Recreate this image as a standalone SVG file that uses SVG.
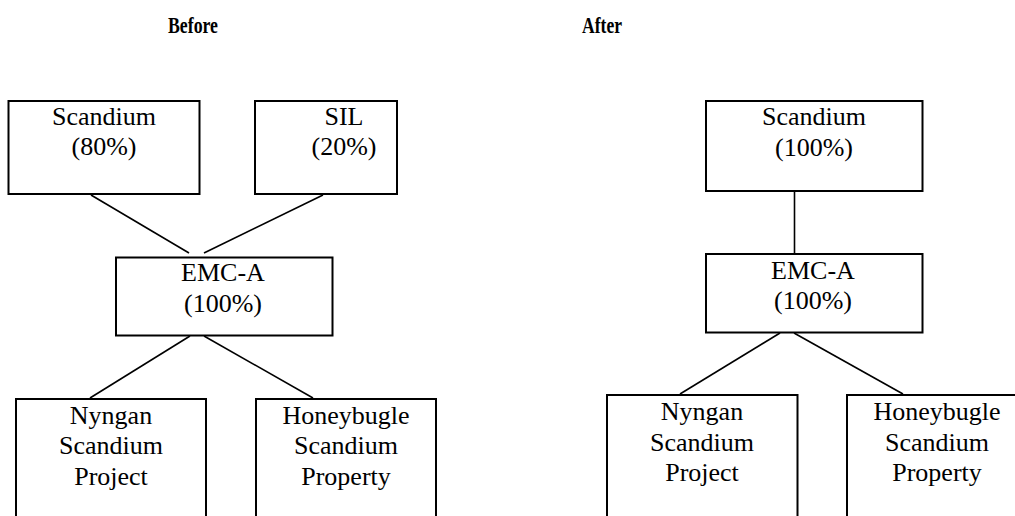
<svg xmlns="http://www.w3.org/2000/svg" width="1015" height="516" viewBox="0 0 1015 516">
<style>
.box{fill:#fff;stroke:#000;stroke-width:2}
.t{font-family:"Liberation Serif","Times New Roman",serif;font-size:26px;fill:#000;text-anchor:middle}
.h{font-family:"Liberation Serif","Times New Roman",serif;font-size:24px;font-weight:bold;fill:#000}
.c{stroke:#000;stroke-width:1.6;fill:none}
</style>
<rect width="1015" height="516" fill="#fff"/>
<text class="h" x="168" y="33" textLength="50" lengthAdjust="spacingAndGlyphs">Before</text>
<text class="h" x="582" y="33" textLength="40" lengthAdjust="spacingAndGlyphs">After</text>
<g id="connectors">
<line class="c" x1="91" y1="195" x2="189" y2="253"/>
<line class="c" x1="323" y1="195" x2="204" y2="253"/>
<line class="c" x1="190" y1="336" x2="90" y2="398"/>
<line class="c" x1="204" y1="336" x2="313" y2="398"/>
<line class="c" x1="794.5" y1="192" x2="794.5" y2="254"/>
<line class="c" x1="780" y1="333" x2="680" y2="394"/>
<line class="c" x1="794" y1="333" x2="903" y2="394"/>
</g>
<g id="b_scandium">
<rect class="box" x="8.5" y="101" width="191" height="93"/>
<text class="t" x="104" y="124.5">Scandium</text>
<text class="t" x="104" y="154.5">(80%)</text>
</g>
<g id="b_sil">
<rect class="box" x="255" y="101" width="142" height="93"/>
<text class="t" x="344" y="124.5">SIL</text>
<text class="t" x="344" y="154.5">(20%)</text>
</g>
<g id="b_emca">
<rect class="box" x="116" y="257.5" width="216.5" height="78"/>
<text class="t" x="223" y="281">EMC-A</text>
<text class="t" x="223" y="311.5">(100%)</text>
</g>
<g id="b_nyngan">
<rect class="box" x="16" y="399" width="190" height="130"/>
<text class="t" x="111" y="423.5">Nyngan</text>
<text class="t" x="111" y="454">Scandium</text>
<text class="t" x="111" y="484.5">Project</text>
</g>
<g id="b_honeybugle">
<rect class="box" x="256" y="399" width="180" height="130"/>
<text class="t" x="346" y="423.5">Honeybugle</text>
<text class="t" x="346" y="454">Scandium</text>
<text class="t" x="346" y="484.5">Property</text>
</g>
<g id="a_scandium">
<rect class="box" x="706" y="101" width="216.5" height="90"/>
<text class="t" x="814" y="125">Scandium</text>
<text class="t" x="814" y="155.5">(100%)</text>
</g>
<g id="a_emca">
<rect class="box" x="706" y="254" width="216.5" height="78.5"/>
<text class="t" x="813" y="278.5">EMC-A</text>
<text class="t" x="813" y="309">(100%)</text>
</g>
<g id="a_nyngan">
<rect class="box" x="607" y="395" width="190.5" height="130"/>
<text class="t" x="702" y="419.5">Nyngan</text>
<text class="t" x="702" y="450.5">Scandium</text>
<text class="t" x="702" y="481">Project</text>
</g>
<g id="a_honeybugle">
<rect class="box" x="847" y="395" width="180" height="130"/>
<text class="t" x="937" y="419.5">Honeybugle</text>
<text class="t" x="937" y="450.5">Scandium</text>
<text class="t" x="937" y="481">Property</text>
</g>
</svg>
